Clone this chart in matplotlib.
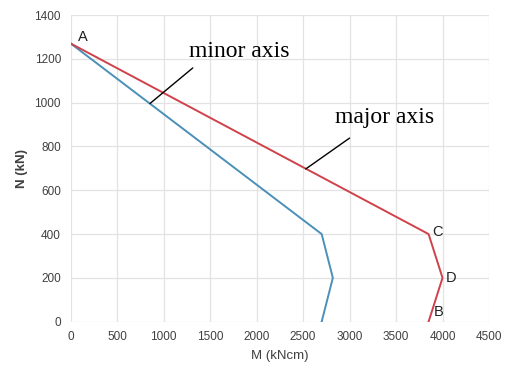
import matplotlib.pyplot as plt

plt.rcParams["font.family"] = ["Liberation Sans", "DejaVu Sans"]

# interaction diagram data (M in kNcm, N in kN)
major_M = [0, 3850, 4000, 3850]
major_N = [1270, 400, 200, 0]
minor_M = [0, 2700, 2820, 2700]
minor_N = [1270, 400, 200, 0]

point_names = ["A", "C", "D", "B"]

fig = plt.figure(figsize=(5.05, 3.69), dpi=100)
ax = fig.add_axes([70.7 / 505, 1 - 321.7 / 369, (489 - 70.7) / 505, (321.7 - 15) / 369])

ax.plot(minor_M, minor_N, color="#4a90b8", lw=1.4, zorder=3)
ax.plot(major_M, major_N, color="#d0414a", lw=1.4, zorder=3)

ax.set_xlim(0, 4500)
ax.set_ylim(0, 1400)
ax.set_xticks(range(0, 4501, 500))
ax.set_yticks(range(0, 1401, 200))
ax.grid(True, color="#e3e3e3", lw=0.9)
ax.set_axisbelow(True)
for s in ax.spines.values():
    s.set_visible(False)
ax.tick_params(length=0, labelsize=8.5, labelcolor="#404040", pad=7)
ax.set_xlabel("M (kNcm)", fontsize=9.5, color="#404040", labelpad=5)
ax.set_ylabel("N (kN)", fontsize=9.5, color="#404040", fontweight="bold", labelpad=5)

# point labels
lab_font = dict(fontsize=10.5, color="#202020")
ax.text(major_M[0] + 80, major_N[0] + 30, point_names[0], ha="left", va="center", **lab_font)
ax.text(major_M[1] + 40, major_N[1] + 10, point_names[1], ha="left", va="center", **lab_font)
ax.text(major_M[2] + 40, major_N[2], point_names[2], ha="left", va="center", **lab_font)
ax.text(major_M[3] + 60, major_N[3] + 45, point_names[3], ha="left", va="center", **lab_font)

# leader annotations
ser = dict(fontsize=17, family="Liberation Serif", color="black")
ax.annotate("minor axis", xy=(853, 996), xytext=(1270, 1235),
            ha="left", va="center", **ser,
            arrowprops=dict(arrowstyle="-", color="black", lw=1,
                            shrinkA=0, shrinkB=0, relpos=(0.04, -0.3)))
ax.annotate("major axis", xy=(2528, 697), xytext=(2840, 934),
            ha="left", va="center", **ser,
            arrowprops=dict(arrowstyle="-", color="black", lw=1,
                            shrinkA=0, shrinkB=0, relpos=(0.15, -0.5)))

fig.savefig("out.png", dpi=100)
